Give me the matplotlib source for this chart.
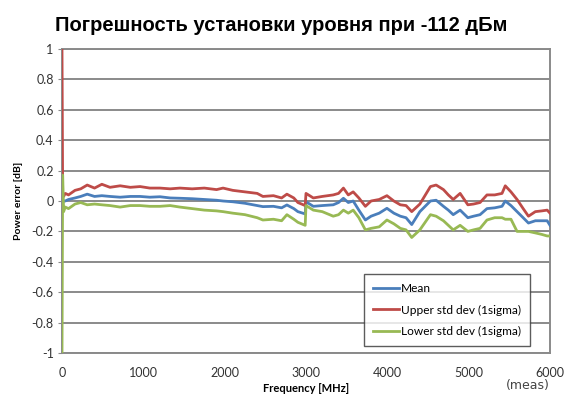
import matplotlib
matplotlib.use("Agg")
import matplotlib.pyplot as plt

# frequency grid (MHz)
freq = [0, 8, 20, 40, 80, 160, 230, 310, 400, 490, 590, 715, 840, 960, 1080, 1205,
        1330, 1450, 1600, 1750, 1900, 1980, 2100, 2250, 2400, 2470, 2600, 2700, 2765,
        2850, 2900, 2990, 3000, 3090, 3200, 3335, 3400, 3460, 3520, 3580, 3650, 3730,
        3800, 3900, 3995, 4080, 4160, 4230, 4300, 4400, 4530, 4600, 4690, 4750, 4810,
        4895, 4990, 5060, 5140, 5225, 5320, 5410, 5450, 5520, 5595, 5670, 5735, 5820,
        5900, 5965, 6000]

mean = [0.0, -0.01, 0.0, 0.0, 0.01, 0.02, 0.03, 0.045, 0.03, 0.035, 0.03, 0.025, 0.03,
        0.03, 0.025, 0.028, 0.02, 0.018, 0.015, 0.01, 0.005, 0.0, -0.005, -0.015, -0.03,
        -0.037, -0.035, -0.045, -0.026, -0.05, -0.07, -0.085, -0.005, -0.035, -0.03,
        -0.025, -0.01, 0.018, -0.01, 0.0, -0.06, -0.125, -0.1, -0.08, -0.048, -0.08,
        -0.1, -0.11, -0.155, -0.07, 0.0, 0.005, -0.035, -0.06, -0.09, -0.06, -0.11,
        -0.1, -0.09, -0.05, -0.045, -0.035, 0.0, -0.03, -0.07, -0.11, -0.145, -0.13,
        -0.13, -0.13, -0.16]

upper = [1.0, 0.05, 0.03, 0.05, 0.04, 0.07, 0.08, 0.105, 0.085, 0.11, 0.09, 0.1, 0.09,
         0.095, 0.085, 0.085, 0.08, 0.085, 0.08, 0.085, 0.075, 0.085, 0.07, 0.06, 0.05,
         0.03, 0.035, 0.02, 0.045, 0.02, -0.01, -0.03, 0.05, 0.02, 0.03, 0.04, 0.05,
         0.085, 0.04, 0.06, 0.02, -0.035, 0.0, 0.01, 0.035, 0.0, -0.025, -0.03, -0.07,
         -0.02, 0.095, 0.105, 0.075, 0.04, 0.01, 0.05, -0.025, -0.02, -0.01, 0.04, 0.04,
         0.05, 0.1, 0.06, 0.01, -0.05, -0.1, -0.07, -0.065, -0.06, -0.08]

lower = [-1.0, 0.17, -0.07, -0.04, -0.05, -0.02, -0.01, -0.025, -0.02, -0.025, -0.03,
         -0.04, -0.03, -0.03, -0.035, -0.035, -0.03, -0.04, -0.05, -0.06, -0.065, -0.07,
         -0.08, -0.09, -0.11, -0.125, -0.12, -0.13, -0.09, -0.12, -0.14, -0.16, -0.03,
         -0.06, -0.07, -0.1, -0.09, -0.06, -0.08, -0.06, -0.11, -0.19, -0.18, -0.17,
         -0.125, -0.15, -0.18, -0.19, -0.24, -0.19, -0.09, -0.1, -0.13, -0.16, -0.19,
         -0.16, -0.2, -0.19, -0.18, -0.125, -0.11, -0.11, -0.12, -0.12, -0.2, -0.2, -0.2,
         -0.21, -0.22, -0.23, -0.23]

series_labels = ["Mean", "Upper std dev (1sigma)", "Lower std dev (1sigma)"]
xticks = [0, 1000, 2000, 3000, 4000, 5000, 6000]
yticks = [-1, -0.8, -0.6, -0.4, -0.2, 0, 0.2, 0.4, 0.6, 0.8, 1]
ytick_labels = ["-1", "-0.8", "-0.6", "-0.4", "-0.2", "0", "0.2", "0.4", "0.6", "0.8", "1"]

plt.rcParams["font.family"] = ["Lato", "DejaVu Sans"]

fig = plt.figure(figsize=(5.65, 3.96), dpi=100)
ax = fig.add_axes([62 / 565, 1 - 353 / 396, 488 / 565, 304 / 396])

ax.plot(freq, mean, color="#4a7ebb", lw=2.0, label=series_labels[0], zorder=3)
ax.plot(freq, upper, color="#be4b48", lw=2.0, label=series_labels[1], zorder=3)
ax.plot(freq, lower, color="#98b954", lw=2.0, label=series_labels[2], zorder=3)

ax.set_xlim(0, 6000)
ax.set_ylim(-1, 1)
ax.set_xticks(xticks)
ax.set_yticks(yticks)
ax.set_yticklabels(ytick_labels)
ax.tick_params(axis="both", labelsize=9, colors="#333333")
ax.tick_params(axis="y", length=3, color="#888888", pad=3)
ax.tick_params(axis="x", length=0, pad=10)
ax.grid(axis="y", color="#8a8a8a", lw=1.4)
for s in ax.spines.values():
    s.set_color("#8a8a8a")
    s.set_linewidth(1.4)

ax.set_xlabel("Frequency [MHz]", fontsize=8, fontweight="bold", labelpad=3)
ax.set_ylabel("Power error [dB]", fontsize=7.5, fontweight="bold", labelpad=6)

leg = ax.legend(loc="lower left", bbox_to_anchor=(0.607, 0.004), fontsize=8.6,
                frameon=True, fancybox=False, edgecolor="#333333",
                handlelength=2.2, handletextpad=0.2, labelspacing=0.9,
                borderpad=0.7)
leg.get_frame().set_linewidth(1.0)

fig.text(0.497, 0.935, "Погрешность установки уровня при -112 дБм",
         ha="center", va="center", fontsize=14.5, fontweight="bold",
         family=["Liberation Sans", "DejaVu Sans"])
fig.text(528 / 565, 1 - 385 / 396, "(meas)", ha="center", va="center",
         fontsize=9, color="#444444", family=["DejaVu Sans"])

fig.savefig("out.png", dpi=100)
